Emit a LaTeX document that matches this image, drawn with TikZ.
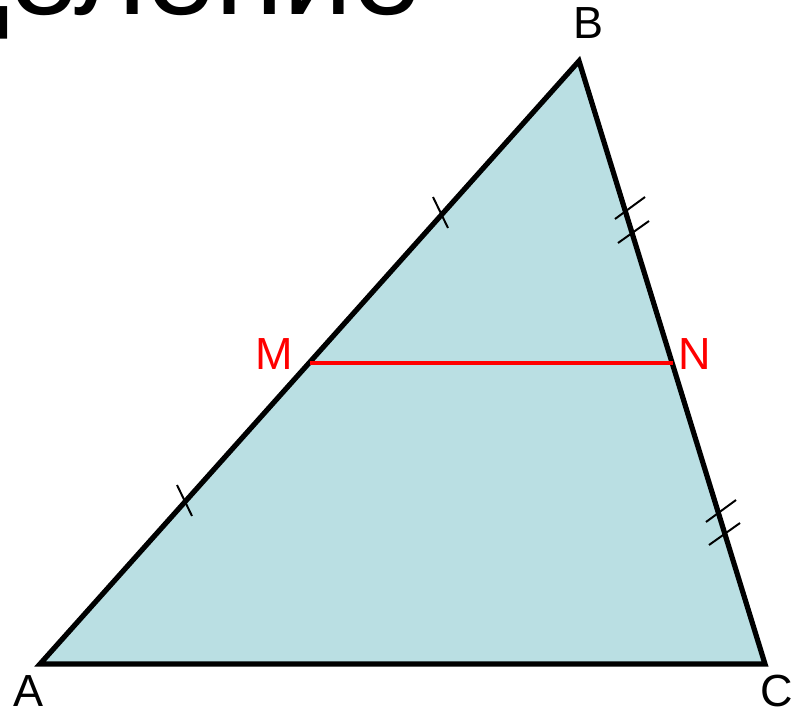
\documentclass[tikz,border=0pt]{standalone}
\usepackage{fontspec}
\setmainfont{Liberation Sans}
\definecolor{trifill}{RGB}{186,223,227}
\definecolor{midred}{RGB}{255,0,0}
\tikzset{
  side/.style={draw=black, line width=3.7pt, line join=miter, fill=trifill},
  midline/.style={draw=midred, line width=3.5pt},
  tick/.style={draw=black, line width=1.4pt},
  lbl/.style={inner sep=0pt, font=\fontsize{32}{32}\selectfont},
  redlbl/.style={lbl, text=midred},
}
\begin{document}
\begin{tikzpicture}[x=0.025cm, y=-0.025cm]
\useasboundingbox (0,0) rectangle (796,716);
\clip (0,0) rectangle (796,716);
\node[anchor=base east, inner sep=0pt, font=\fontsize{88}{88}\selectfont] (title) at (422,15) {Определение};
\coordinate (A) at (40,664);
\coordinate (B) at (579,61);
\coordinate (C) at (765,664);
\coordinate (M) at (310,363);
\coordinate (N) at (673,363);
\path[side] (A) -- (B) -- (C) -- cycle;
\draw[midline] (M) -- (N);
% ticks on AB
\draw[tick] (177,485) -- (192,516);
\draw[tick] (433,197) -- (448,228);
% double ticks on BC
\draw[tick] (615,219) -- (645,197);
\draw[tick] (618,243) -- (649,221);
\draw[tick] (706,522) -- (736,500);
\draw[tick] (709,545) -- (740,523);
% labels
\node[lbl] (lA) at (29,691) {A};
\node[lbl] (lB) at (588,23) {B};
\node[lbl] (lC) at (777,691) {C};
\node[redlbl] (lM) at (274,354) {M};
\node[redlbl] (lN) at (695,354) {N};
\end{tikzpicture}
\end{document}
